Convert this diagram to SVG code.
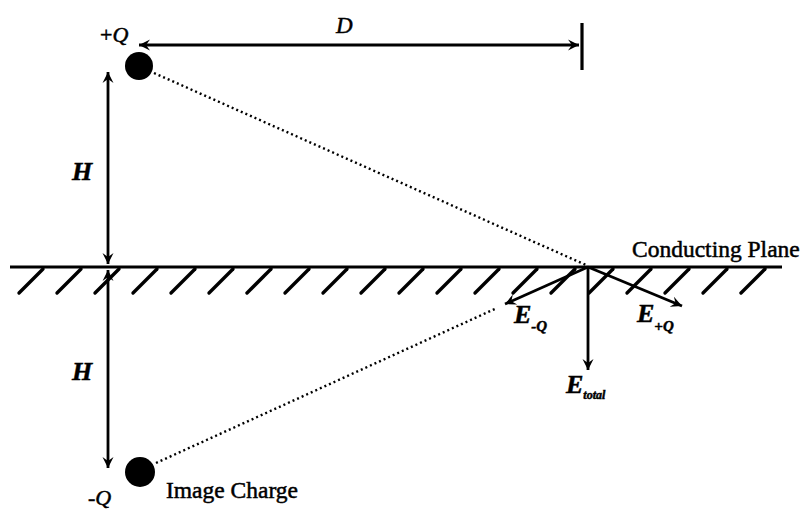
<svg xmlns="http://www.w3.org/2000/svg" width="805" height="509" viewBox="0 0 805 509">
<style>
.ln{stroke:#000;fill:none;stroke-width:2.8}
.pl{stroke:#000;stroke-width:3.2;fill:none}
.ht{stroke:#000;stroke-width:3.4;fill:none;stroke-linecap:round}
.dt{stroke:#000;stroke-width:2.4;fill:none;stroke-dasharray:2 3}
.t{font-family:"Liberation Serif","Times New Roman",serif;fill:#000;stroke:#000;stroke-width:0.5}
.it{font-style:italic}
.b{font-weight:bold}
</style>
<defs>
<marker id="ah" viewBox="-12 -6 13 12" refX="0" refY="0" markerWidth="13" markerHeight="12" markerUnits="userSpaceOnUse" orient="auto-start-reverse">
<path d="M0,0 L-11,-5.5 L-7,0 L-11,5.5 Z" fill="#000"/>
</marker>
</defs>
<rect width="805" height="509" fill="#fff"/>
<g id="plane">
<line class="pl" x1="10" y1="267" x2="782" y2="267"/>
<g id="hatches">
<line class="ht" x1="43" y1="269" x2="19" y2="293"/>
<line class="ht" x1="81" y1="269" x2="57" y2="293"/>
<line class="ht" x1="119" y1="269" x2="95" y2="293"/>
<line class="ht" x1="157" y1="269" x2="133" y2="293"/>
<line class="ht" x1="195" y1="269" x2="171" y2="293"/>
<line class="ht" x1="233" y1="269" x2="209" y2="293"/>
<line class="ht" x1="271" y1="269" x2="247" y2="293"/>
<line class="ht" x1="309" y1="269" x2="285" y2="293"/>
<line class="ht" x1="347" y1="269" x2="323" y2="293"/>
<line class="ht" x1="385" y1="269" x2="361" y2="293"/>
<line class="ht" x1="423" y1="269" x2="399" y2="293"/>
<line class="ht" x1="461" y1="269" x2="437" y2="293"/>
<line class="ht" x1="499" y1="269" x2="475" y2="293"/>
<line class="ht" x1="537" y1="269" x2="513" y2="293"/>
<line class="ht" x1="575" y1="269" x2="551" y2="293"/>
<line class="ht" x1="613" y1="269" x2="589" y2="293"/>
<line class="ht" x1="651" y1="269" x2="627" y2="293"/>
<line class="ht" x1="689" y1="269" x2="665" y2="293"/>
<line class="ht" x1="727" y1="269" x2="703" y2="293"/>
<line class="ht" x1="765" y1="269" x2="741" y2="293"/>
</g>
<text class="t" x="632" y="257" font-size="23.5">Conducting Plane</text>
</g>
<g id="plusQ">
<circle cx="139" cy="66" r="14" fill="#000"/>
<text class="t" x="100" y="42" font-size="22">+<tspan class="it">Q</tspan></text>
</g>
<g id="minusQ">
<circle cx="140" cy="472" r="15" fill="#000"/>
<text class="t it" x="88" y="505" font-size="22">-Q</text>
<text class="t" x="166" y="498" font-size="23.5">Image Charge</text>
</g>
<g id="connectors">
<line class="ln" x1="108" y1="72" x2="108" y2="264" marker-start="url(#ah)" marker-end="url(#ah)"/>
<line class="ln" x1="108" y1="270" x2="108" y2="468" marker-start="url(#ah)" marker-end="url(#ah)"/>
<line class="ln" x1="139" y1="45" x2="579" y2="45" marker-start="url(#ah)" marker-end="url(#ah)"/>
<line class="pl" x1="582" y1="23" x2="582" y2="70"/>
<line class="dt" x1="154" y1="73" x2="586" y2="265"/>
<line class="dt" x1="156" y1="463" x2="497" y2="308"/>
<line class="ln" x1="588" y1="267" x2="505" y2="304" marker-end="url(#ah)"/>
<line class="ln" x1="588" y1="267" x2="682" y2="306" marker-end="url(#ah)"/>
<line class="ln" x1="588" y1="267" x2="588" y2="370" marker-end="url(#ah)"/>
</g>
<g id="labels">
<text class="t it" x="336" y="33" font-size="23">D</text>
<text class="t it b" x="72" y="180" font-size="26">H</text>
<text class="t it b" x="72" y="380" font-size="26">H</text>
<text class="t it b" x="514" y="323" font-size="26">E<tspan font-size="15" dy="8">-Q</tspan></text>
<text class="t it b" x="637" y="322" font-size="26">E<tspan font-size="15" dy="9">+Q</tspan></text>
<text class="t it b" x="566" y="393" font-size="26">E<tspan font-size="12" dy="6">total</tspan></text>
</g>
</svg>
